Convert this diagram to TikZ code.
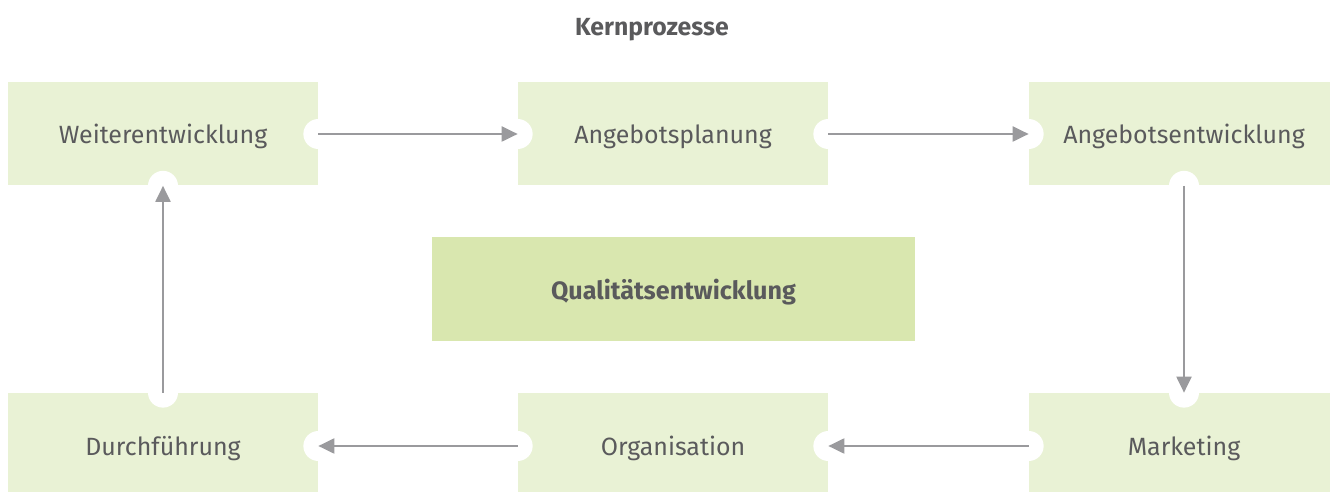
\documentclass[tikz,border=0pt]{standalone}
\usepackage{fontspec}
\setmainfont{Fira Sans}
\usetikzlibrary{arrows.meta,positioning}
\definecolor{boxgreen}{HTML}{E9F2D5}
\definecolor{coregreen}{HTML}{D9E7AF}
\definecolor{txtgray}{HTML}{5A5A5C}
\definecolor{arrgray}{HTML}{9A9A9D}
\tikzset{
  prozess/.style={fill=boxgreen,minimum width=6.2cm,minimum height=2.06cm,inner sep=0pt,text depth=0pt,text=txtgray},
  flow/.style={-{Triangle[length=0.32cm,width=0.3cm]},arrgray,line width=1.2pt}
}

\begin{document}
\begin{tikzpicture}[font=\fontsize{14.2}{17}\selectfont]
\useasboundingbox (0,0) rectangle (26.6,9.84);
% Kernprozesse im Kreislauf
\node[text=txtgray,font=\fontsize{14.1}{17}\selectfont\bfseries] (titel) at (13.04,9.24) {Kernprozesse};
\node[prozess] (weiter) at (3.26,7.16) {Weiterentwicklung};
\node[prozess] (planung) at (13.46,7.16) {Angebotsplanung};
\node[prozess] (angebot) at (23.68,7.16) {Angebotsentwicklung};
\node[prozess,minimum height=2.12cm] (durch) at (3.26,0.92) {Durchführung};
\node[prozess,minimum height=2.12cm] (orga) at (13.46,0.92) {Organisation};
\node[prozess,minimum height=2.12cm] (market) at (23.68,0.92) {Marketing};
\node[fill=coregreen,minimum width=9.66cm,minimum height=2.08cm,text depth=0pt,text=txtgray,font=\fontsize{14.3}{17}\selectfont\bfseries] (quali) at (13.47,4.06) {Qualitätsentwicklung};
% weisse Aussparungen an den Pfeilenden
\foreach \a in {weiter.east,planung.west,planung.east,angebot.west,angebot.south,market.north,market.west,orga.east,orga.west,durch.east,durch.north,weiter.south}{\fill[white] (\a) circle (0.3);}
\draw[flow] (weiter.east)--(planung.west);
\draw[flow] (planung.east)--(angebot.west);
\draw[flow] (angebot.south)--(market.north);
\draw[flow] (market.west)--(orga.east);
\draw[flow] (orga.west)--(durch.east);
\draw[flow] (durch.north)--(weiter.south);
\end{tikzpicture}
\end{document}
